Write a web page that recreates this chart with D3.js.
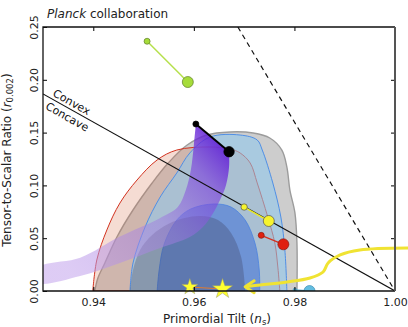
<!DOCTYPE html>
<meta charset="utf-8" />
<style>
  body { margin: 0; background: #fff; }
  text { font-family: "DejaVu Sans", sans-serif; }
</style>
<body>
<script src="https://d3js.org/d3.v7.min.js"></script>
<script>

// contours, as [n_s, r] pairs
var gray95 = [[0.9403,0],[0.9409,0.012],[0.9423,0.0265],[0.9447,0.0511],[0.9479,0.0767],[0.9517,0.1023],
  [0.9549,0.1212],[0.9586,0.1380],[0.9626,0.1477],[0.9672,0.1506],[0.9718,0.1496],[0.9751,0.1449],
  [0.9775,0.1335],[0.9785,0.1174],[0.9791,0.0956],[0.9801,0.0739],[0.9805,0.0455],[0.9805,0]];
var red95 = [[0.9399,0],[0.9407,0.0294],[0.9427,0.0578],[0.9453,0.0833],[0.9487,0.1051],[0.9527,0.1241],
  [0.9566,0.1335],[0.9632,0.1364],[0.9672,0.1345],[0.9692,0.1307],[0.9712,0.1212],[0.9726,0.1023],
  [0.9747,0.0701],[0.9761,0.0455],[0.9767,0.0227],[0.9771,0]];
var blue95 = [[0.9473,0],[0.9479,0.0265],[0.9503,0.0606],[0.9533,0.0890],[0.9566,0.1117],[0.9592,0.1307],
  [0.9632,0.1458],[0.9692,0.1477],[0.9726,0.1430],[0.9736,0.1335],[0.9757,0.1023],[0.9773,0.0701],
  [0.9781,0.0388],[0.9785,0]];
var gray68 = [[0.9473,0],[0.9479,0.0199],[0.9493,0.0388],[0.9517,0.0530],[0.9549,0.0634],[0.9582,0.0691],
  [0.9614,0.0710],[0.9648,0.0672],[0.9674,0.0549],[0.9694,0.0322],[0.9702,0]];
var blue68 = [[0.9527,0],[0.9531,0.0199],[0.9541,0.0445],[0.9566,0.0672],[0.9594,0.0777],[0.9640,0.0824],
  [0.9674,0.0795],[0.9702,0.0672],[0.9722,0.0445],[0.9730,0.0199],[0.9731,0]];
// purple band: from the big black dot down the lower edge, back up the upper edge to the small dot
var purple = [[0.9670,0.1316],[0.9670,0.1174],[0.9664,0.1004],[0.9652,0.0862],[0.9636,0.0720],[0.9618,0.0606],
  [0.9592,0.0511],[0.9533,0.0407],[0.9453,0.0265],[0.9374,0.0142],[0.9290,0.0080],
  [0.9290,0.0220],[0.9374,0.0315],[0.9453,0.0515],[0.9533,0.0691],[0.9568,0.0795],[0.9584,0.0956],
  [0.9594,0.1146],[0.9600,0.1383],[0.9604,0.1581]];

// model predictions, [small dot, big dot]
var greenPts = [[0.9507,0.2365],[0.9588,0.1979]];
var blackPts = [[0.9604,0.1581],[0.9670,0.1319]];
var yellowPts = [[0.9700,0.0795],[0.9749,0.0663]];
var redPts = [[0.9734,0.0527],[0.9778,0.0442]];
var cyanPts = [[0.9801,0.0010],[0.9830,0]];
var stars = [[0.9592,0.0038],[0.9657,0.0019]];
var arrowPts = [[1.0026,0.0407],[0.9930,0.0388],[0.9891,0.0341],[0.9867,0.0265],[0.9857,0.0180],
  [0.9831,0.0123],[0.9785,0.0085],[0.9732,0.0057],[0.9702,0.0040]];

var xTicks = [0.94, 0.96, 0.98, 1.00];
var yTicks = [0, 0.05, 0.10, 0.15, 0.20, 0.25];

var margin = {top: 27, right: 13, bottom: 36, left: 43},
    width = 408 - margin.left - margin.right,
    height = 327 - margin.top - margin.bottom;

var x = d3.scaleLinear().domain([0.93, 1.0]).range([0, width]);
var y = d3.scaleLinear().domain([0, 0.25]).range([height, 0]);

var root = d3.select("body").append("svg")
    .attr("width", 408)
    .attr("height", 327);

var defs = root.append("defs");
defs.append("clipPath").attr("id", "plot")
  .append("rect").attr("width", width).attr("height", height);

var grad = defs.append("linearGradient")
    .attr("id", "purp")
    .attr("gradientUnits", "userSpaceOnUse")
    .attr("x1", x(0.965)).attr("y1", y(0.15))
    .attr("x2", x(0.935)).attr("y2", y(0.02));
grad.append("stop").attr("offset", "0%").attr("stop-color", "#5a14d4").attr("stop-opacity", 0.9);
grad.append("stop").attr("offset", "20%").attr("stop-color", "#7a3cdc").attr("stop-opacity", 0.62);
grad.append("stop").attr("offset", "50%").attr("stop-color", "#a07ae0").attr("stop-opacity", 0.5);
grad.append("stop").attr("offset", "100%").attr("stop-color", "#c2a2ec").attr("stop-opacity", 0.55);

var svg = root.append("g")
    .attr("transform", "translate(" + margin.left + "," + margin.top + ")");

var line = d3.line()
    .x(function(d) { return x(d[0]); })
    .y(function(d) { return y(d[1]); });
var smooth = d3.line()
    .x(function(d) { return x(d[0]); })
    .y(function(d) { return y(d[1]); })
    .curve(d3.curveCatmullRom);

var plot = svg.append("g").attr("clip-path", "url(#plot)");

function region(data, fill, stroke, sw) {
  plot.append("path")
      .attr("d", smooth(data) + "Z")
      .attr("fill", fill)
      .attr("stroke", stroke)
      .attr("stroke-width", sw);
}

region(gray95, "#cdcdcd", "#9c9c9c", 1.4);
region(red95, "rgba(215,110,70,0.24)", "#d2321f", 1);
region(blue95, "rgba(140,200,240,0.55)", "#4f8fe6", 1);
region(blue68, "rgba(60,110,215,0.55)", "#4a82e0", 0.8);
region(gray68, "rgba(60,60,90,0.3)", "none", 0);

plot.append("path")
    .attr("d", smooth(purple) + "Z")
    .attr("fill", "url(#purp)");

// convex / concave boundary and the dashed line
var ncLine = [[0.93, 8 / 3 * 0.07], [1.0, 0]];
plot.append("path")
    .attr("d", line(ncLine))
    .attr("stroke", "#111")
    .attr("stroke-width", 1.1)
    .attr("fill", "none");
plot.append("path")
    .attr("d", line([[1 - 0.25 / 8, 0.25], [1.0, 0]]))
    .attr("stroke", "#111")
    .attr("stroke-width", 1.2)
    .attr("stroke-dasharray", "5,4")
    .attr("fill", "none");

var ang = Math.atan2(y(0) - y(ncLine[0][1]), x(1) - x(0.93)) * 180 / Math.PI;
var lx = 0.9315, ly = 8 / 3 * (1 - lx);
svg.append("text")
    .attr("transform", "translate(" + x(lx) + "," + y(ly) + ")rotate(" + ang + ")")
    .attr("dy", -3)
    .style("font-size", "11px")
    .attr("fill", "#111")
    .text("Convex");
svg.append("text")
    .attr("transform", "translate(" + x(lx) + "," + y(ly) + ")rotate(" + ang + ")")
    .attr("dy", 12)
    .style("font-size", "11px")
    .attr("fill", "#111")
    .text("Concave");

// model tracks
function track(data, lineColor, lw, fill, stroke, r1, r2, clip) {
  var g = clip ? plot : svg;
  g.append("path")
      .attr("d", line(data))
      .attr("stroke", lineColor)
      .attr("stroke-width", lw)
      .attr("fill", "none");
  g.selectAll(null)
      .data(data)
      .enter().append("circle")
      .attr("cx", function(d) { return x(d[0]); })
      .attr("cy", function(d) { return y(d[1]); })
      .attr("r", function(d, i) { return i == 0 ? r1 : r2; })
      .attr("fill", fill)
      .attr("stroke", stroke)
      .attr("stroke-width", 0.7);
}

track(greenPts, "#b6e04c", 1.5, "#a6dc3a", "#5d7d28", 3, 5.5);
track(blackPts, "#000", 2, "#000", "#000", 3, 5.2);
track(yellowPts, "#e9e826", 1.5, "#f6f42e", "#555", 3.2, 5.5);
track(redPts, "#d3301e", 1.2, "#e0200f", "#8a1a10", 3, 5.5);
track(cyanPts, "#57b2d8", 1.5, "#63bde0", "#3c8fb5", 1.8, 5.5, true);

// yellow arrow
svg.append("path")
    .attr("d", smooth(arrowPts))
    .attr("stroke", "#f0e332")
    .attr("stroke-width", 3)
    .attr("fill", "none");
var tip = arrowPts[arrowPts.length - 1];
svg.append("path")
    .attr("transform", "translate(" + x(tip[0]) + "," + y(tip[1]) + ")")
    .attr("d", "M9,-6L0,0L9,6")
    .attr("stroke", "#f0e332")
    .attr("stroke-width", 3)
    .attr("stroke-linecap", "round")
    .attr("stroke-linejoin", "round")
    .attr("fill", "none");

// stars
svg.append("path")
    .attr("d", line(stars))
    .attr("stroke", "#e07a30")
    .attr("stroke-width", 1.2)
    .attr("fill", "none");
svg.selectAll(".star")
    .data(stars)
    .enter().append("path")
    .attr("class", "star")
    .attr("transform", function(d) { return "translate(" + x(d[0]) + "," + y(d[1]) + ")"; })
    .attr("d", function(d, i) { return d3.symbol(d3.symbolStar).size(i == 0 ? 80 : 125)(); })
    .attr("fill", "#ffff30")
    .attr("stroke", "#9a9a70")
    .attr("stroke-width", 0.5);

// axes, ticks pointing in
svg.append("g")
    .attr("transform", "translate(0," + height + ")")
    .call(d3.axisBottom(x).tickValues(xTicks).tickSize(-4).tickPadding(7).tickFormat(d3.format(".2f")))
    .call(function(g) { g.select(".domain").remove(); })
    .selectAll("text").style("font-size", "11px").style("font-family", "DejaVu Sans").attr("fill", "#222");

svg.append("g")
    .call(d3.axisTop(x).tickValues(xTicks.slice(0, 3)).tickSize(-4).tickFormat(""))
    .call(function(g) { g.select(".domain").remove(); });

svg.append("g")
    .call(d3.axisLeft(y).tickValues(yTicks).tickSize(-4).tickFormat(d3.format(".2f")))
    .call(function(g) { g.select(".domain").remove(); })
    .selectAll("text")
    .attr("transform", "rotate(-90)")
    .attr("x", 0).attr("y", -5).attr("dy", 0)
    .attr("text-anchor", "middle")
    .attr("fill", "#222")
    .style("font-size", "11px")
    .style("font-family", "DejaVu Sans");

svg.append("g")
    .attr("transform", "translate(" + width + ",0)")
    .call(d3.axisRight(y).tickValues(yTicks.slice(1, 5)).tickSize(-4).tickFormat(""))
    .call(function(g) { g.select(".domain").remove(); });

// frame
svg.append("path")
    .attr("d", "M" + width + ",0H0V" + height + "H" + width)
    .attr("stroke", "#111").attr("stroke-width", 1.3).attr("fill", "none");
svg.append("line")
    .attr("x1", width).attr("x2", width).attr("y1", 0).attr("y2", height)
    .attr("stroke", "#555").attr("stroke-width", 2);

// labels
svg.append("text")
    .attr("x", width / 2 - 2)
    .attr("y", height + 32)
    .attr("text-anchor", "middle")
    .style("font-size", "12px")
    .attr("fill", "#222")
    .html('Primordial Tilt (<tspan font-style="italic">n</tspan><tspan font-size="8.5px" dy="2">s</tspan><tspan dy="-2">)</tspan>');

svg.append("text")
    .attr("transform", "translate(-32," + (height / 2 + 1) + ")rotate(-90)")
    .attr("text-anchor", "middle")
    .style("font-size", "12px")
    .attr("fill", "#222")
    .html('Tensor-to-Scalar Ratio (<tspan font-style="italic">r</tspan><tspan font-size="8.5px" dy="2">0.002</tspan><tspan dy="-2">)</tspan>');

svg.append("text")
    .attr("x", 4)
    .attr("y", -9)
    .style("font-size", "12px")
    .attr("fill", "#222")
    .html('<tspan font-style="italic">Planck</tspan> collaboration');

</script>
</body>
